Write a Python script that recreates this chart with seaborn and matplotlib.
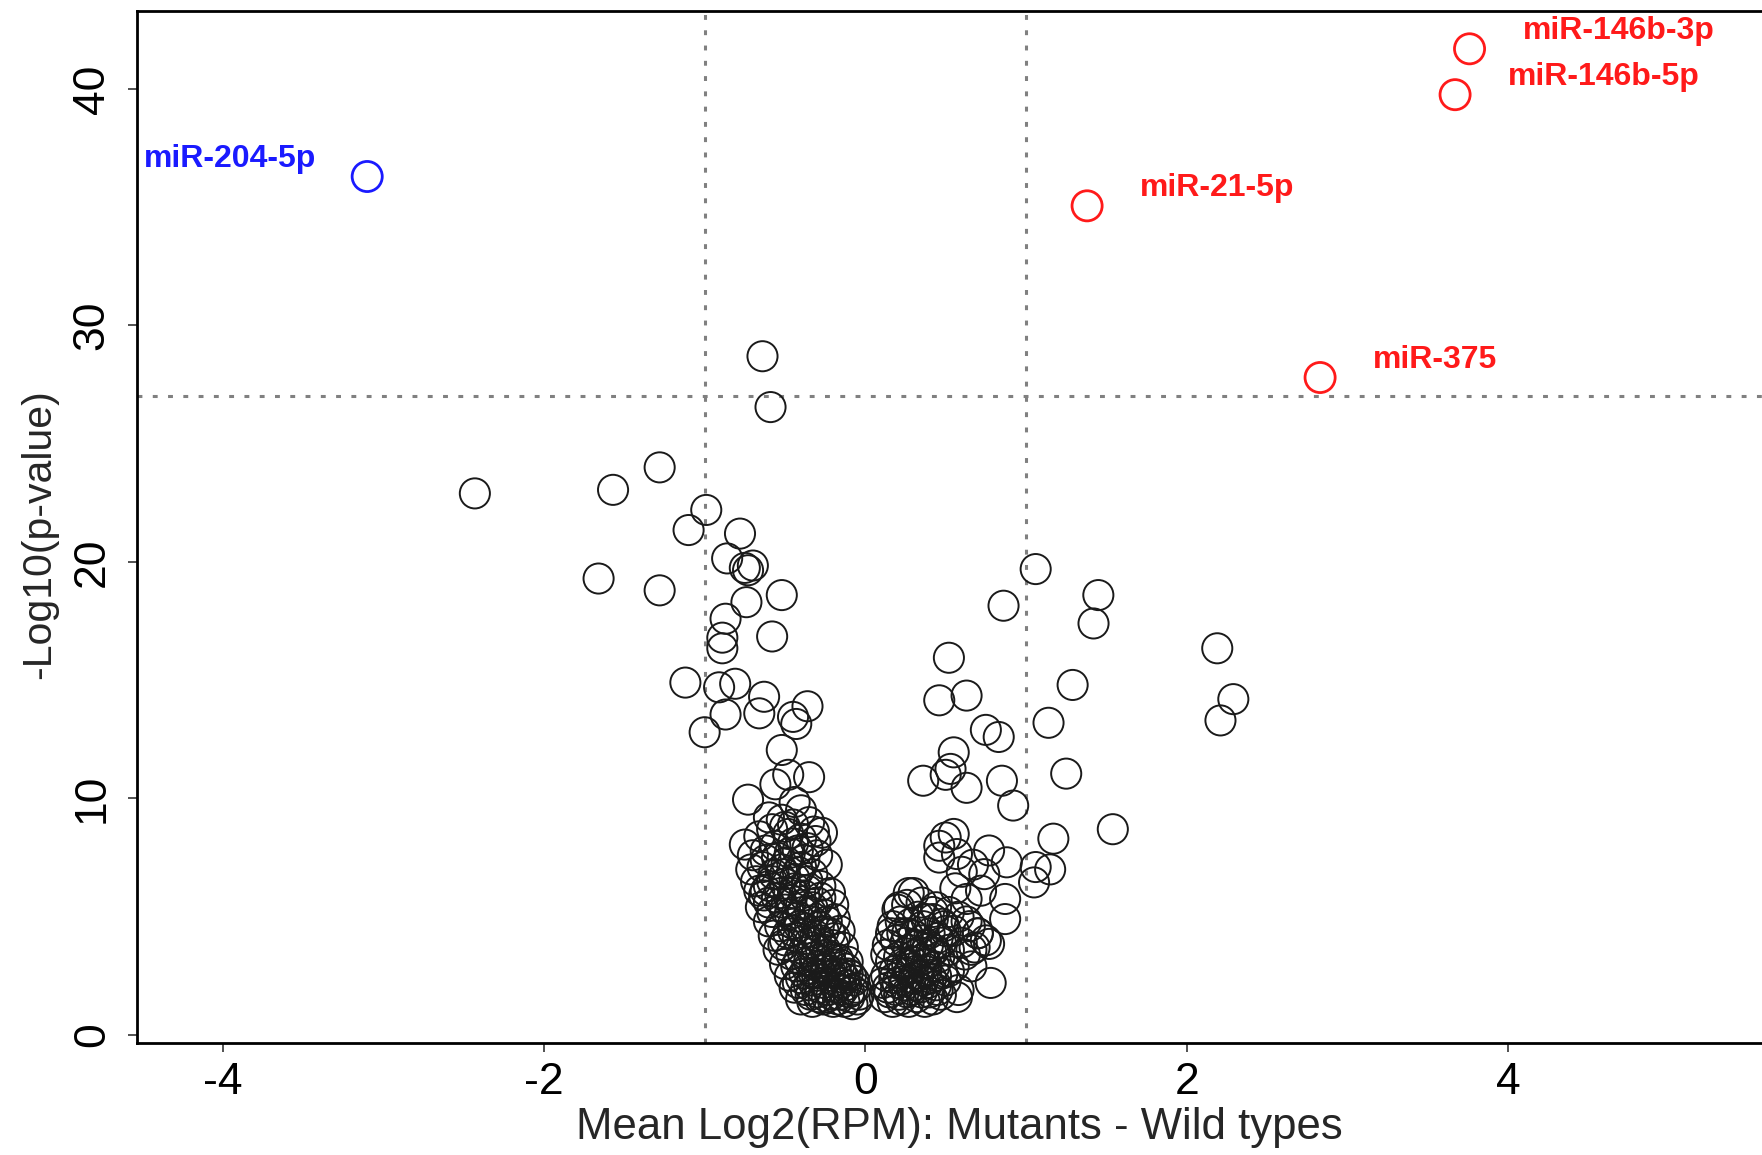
import numpy as np
import pandas as pd
import matplotlib
matplotlib.use("Agg")
import matplotlib.pyplot as plt
import seaborn as sns

# significant hits (labelled)
hit_names = ["miR-204-5p", "miR-21-5p", "miR-375", "miR-146b-5p", "miR-146b-3p"]
hit_lfc = [-3.10, 1.38, 2.83, 3.67, 3.76]
hit_nlp = [36.3, 35.06, 27.8, 39.76, 41.7]
hit_dir = ["down", "up", "up", "up", "up"]

# left wing, sparse upper part (lfc, -log10 p)
left_sparse = [
    (-0.64, 28.7), (-0.59, 26.55), (-2.43, 22.9), (-1.57, 23.05), (-1.28, 24.0),
    (-0.99, 22.2), (-1.10, 21.35), (-0.78, 21.2), (-1.66, 19.3), (-1.28, 18.8),
    (-0.86, 20.15), (-0.75, 19.75), (-0.70, 19.85), (-0.73, 19.65), (-0.52, 18.6),
    (-0.74, 18.3), (-0.87, 17.6), (-0.89, 16.8), (-0.89, 16.35), (-0.58, 16.85),
    (-1.12, 14.9), (-0.91, 14.7), (-0.81, 14.85), (-0.63, 14.3), (-0.66, 13.6),
    (-0.87, 13.55), (-0.36, 13.9), (-0.45, 13.45), (-0.43, 13.15), (-1.00, 12.8),
    (-0.52, 12.05), (-0.73, 9.95), (-0.56, 10.6), (-0.48, 11.0), (-0.35, 10.9),
    (-0.44, 9.85), (-0.40, 9.5), (-0.75, 8.05), (-0.27, 8.55), (-0.71, 7.0),
    (-0.66, 6.1),
]

# left wing, dense lower part
left_dense = [
    (-0.60, 9.2), (-0.52, 9.1), (-0.45, 8.9), (-0.35, 9.0), (-0.58, 8.7), (-0.48, 8.5),
    (-0.40, 8.3), (-0.31, 8.2), (-0.66, 8.4), (-0.70, 7.6), (-0.62, 7.8), (-0.55, 7.5),
    (-0.47, 7.7), (-0.38, 7.4), (-0.30, 7.6), (-0.24, 7.2), (-0.64, 7.1), (-0.52, 7.0),
    (-0.42, 6.9), (-0.33, 6.8), (-0.68, 6.5), (-0.60, 6.3), (-0.50, 6.4), (-0.44, 6.2),
    (-0.36, 6.5), (-0.28, 6.3), (-0.22, 6.0), (-0.63, 5.9), (-0.55, 5.8), (-0.46, 5.7),
    (-0.38, 5.9), (-0.30, 5.6), (-0.65, 5.4), (-0.58, 5.2), (-0.50, 5.3), (-0.42, 5.0),
    (-0.34, 5.2), (-0.26, 5.1), (-0.19, 4.9), (-0.60, 4.8), (-0.53, 4.6), (-0.45, 4.7),
    (-0.37, 4.5), (-0.29, 4.6), (-0.22, 4.3), (-0.57, 4.2), (-0.50, 4.0), (-0.42, 4.1),
    (-0.35, 3.9), (-0.28, 4.0), (-0.20, 3.8), (-0.14, 3.7), (-0.54, 3.6), (-0.46, 3.4),
    (-0.39, 3.5), (-0.31, 3.3), (-0.24, 3.4), (-0.17, 3.2), (-0.11, 3.1), (-0.50, 3.0),
    (-0.43, 2.9), (-0.36, 2.8), (-0.29, 2.9), (-0.22, 2.7), (-0.15, 2.6), (-0.09, 2.5),
    (-0.47, 2.5), (-0.40, 2.4), (-0.33, 2.3), (-0.26, 2.2), (-0.19, 2.3), (-0.12, 2.1),
    (-0.06, 2.0), (-0.44, 2.0), (-0.37, 1.9), (-0.30, 1.8), (-0.23, 1.9), (-0.16, 1.7),
    (-0.10, 1.6), (-0.05, 1.5), (-0.40, 1.5), (-0.33, 1.4), (-0.26, 1.5), (-0.20, 1.4),
    (-0.13, 1.4), (-0.08, 1.3), (-0.32, 2.6), (-0.27, 3.1), (-0.21, 3.0), (-0.18, 2.0),
    (-0.14, 1.9), (-0.24, 1.6), (-0.35, 2.1), (-0.29, 1.6), (-0.41, 3.2), (-0.33, 3.7),
    (-0.25, 3.6), (-0.38, 4.3), (-0.31, 4.2), (-0.47, 5.1), (-0.40, 5.5), (-0.33, 5.4),
    (-0.53, 6.0), (-0.44, 6.6), (-0.57, 6.8), (-0.49, 7.3), (-0.36, 7.9), (-0.45, 8.1),
    (-0.56, 8.0), (-0.28, 5.8), (-0.20, 5.5), (-0.16, 4.4), (-0.12, 2.8), (-0.07, 2.3),
    (-0.10, 1.8), (-0.17, 1.5), (-0.22, 2.5), (-0.45, 4.4), (-0.51, 3.8), (-0.60, 5.6),
    (-0.62, 6.1), (-0.34, 1.7), (-0.28, 2.0), (-0.21, 1.7), (-0.15, 2.2), (-0.08, 1.9),
    (-0.30, 2.5), (-0.25, 2.8), (-0.18, 2.6), (-0.13, 2.4), (-0.38, 2.6), (-0.42, 2.2),
    (-0.35, 3.1), (-0.30, 3.6), (-0.22, 3.3), (-0.19, 4.1), (-0.26, 4.4), (-0.33, 4.8),
    (-0.41, 4.6), (-0.48, 4.3), (-0.24, 4.8), (-0.39, 5.2), (-0.52, 5.6), (-0.45, 6.0),
    (-0.36, 6.1), (-0.58, 6.5), (-0.50, 6.8), (-0.40, 7.1), (-0.62, 7.4), (-0.42, 7.8),
    (-0.32, 8.6), (-0.50, 8.8), (-0.16, 3.0), (-0.11, 2.6), (-0.04, 1.7),
]

# right wing, sparse upper part
right_sparse = [
    (1.06, 19.7), (0.86, 18.15), (1.45, 18.6), (1.42, 17.4), (0.52, 15.95), (1.29, 14.8),
    (0.46, 14.15), (0.63, 14.35), (1.14, 13.2), (0.75, 12.9), (0.83, 12.6), (0.55, 11.95),
    (0.53, 11.25), (1.25, 11.05), (0.36, 10.75), (0.50, 11.0), (0.63, 10.45), (0.85, 10.75),
    (0.92, 9.7), (1.54, 8.7), (1.17, 8.3), (2.19, 16.35), (2.29, 14.2), (2.21, 13.3),
    (0.50, 8.35), (0.55, 8.5), (0.46, 8.0), (0.57, 7.65), (0.77, 7.8), (0.67, 7.2),
    (0.74, 6.8), (0.88, 7.3), (1.06, 7.1), (1.15, 7.0), (1.05, 6.45), (0.56, 6.2),
    (0.63, 5.75), (0.87, 5.75), (0.87, 4.9), (0.70, 4.3), (0.77, 3.85), (0.63, 4.8),
    (0.42, 5.2), (0.27, 6.0), (0.21, 5.4), (0.49, 4.6), (0.66, 3.6), (0.46, 7.5),
    (0.60, 6.9), (0.72, 6.1),
]

# right wing, dense lower part
right_dense = [
    (0.12, 1.6), (0.17, 1.4), (0.22, 1.5), (0.27, 1.4), (0.32, 1.6), (0.37, 1.4),
    (0.42, 1.5), (0.47, 1.7), (0.14, 2.0), (0.19, 1.9), (0.24, 2.1), (0.29, 1.9),
    (0.34, 2.0), (0.39, 2.2), (0.44, 2.1), (0.50, 2.3), (0.13, 2.5), (0.18, 2.7),
    (0.23, 2.6), (0.28, 2.8), (0.33, 2.5), (0.38, 2.7), (0.43, 2.9), (0.48, 2.6),
    (0.16, 3.1), (0.21, 3.3), (0.26, 3.0), (0.31, 3.4), (0.36, 3.2), (0.41, 3.5),
    (0.46, 3.3), (0.52, 3.6), (0.14, 3.8), (0.19, 4.0), (0.25, 3.9), (0.30, 4.2),
    (0.35, 4.0), (0.40, 4.3), (0.45, 4.1), (0.55, 4.4), (0.60, 3.9), (0.17, 4.6),
    (0.22, 4.8), (0.28, 4.7), (0.33, 5.0), (0.38, 4.9), (0.48, 4.7), (0.20, 5.3),
    (0.26, 5.5), (0.30, 6.0), (0.35, 5.6), (0.44, 5.4), (0.52, 5.2), (0.58, 5.0),
    (0.65, 4.6), (0.70, 4.3), (0.75, 4.0), (0.62, 3.4), (0.68, 3.7), (0.55, 2.9),
    (0.25, 2.3), (0.30, 2.4), (0.20, 2.2), (0.35, 1.8), (0.40, 1.8), (0.27, 3.6),
    (0.32, 3.8), (0.23, 4.3), (0.38, 3.0), (0.44, 2.5), (0.57, 1.6), (0.58, 1.9),
    (0.78, 2.2), (0.66, 2.9), (0.15, 1.8), (0.21, 1.7), (0.26, 1.8), (0.31, 2.1),
    (0.36, 2.3), (0.41, 2.4), (0.18, 2.4), (0.23, 3.0), (0.29, 3.1), (0.34, 3.5),
    (0.39, 3.8), (0.43, 3.6), (0.47, 3.9), (0.50, 4.4), (0.26, 4.3), (0.36, 4.6),
    (0.42, 4.9), (0.13, 3.4), (0.16, 4.3), (0.11, 2.2), (0.45, 1.9), (0.52, 2.7),
]

fc_cut = [-1, 1]
p_cut = 27

x_ticks = [-4, -2, 0, 2, 4]
y_ticks = [0, 10, 20, 30, 40]

# build the table
bg = pd.DataFrame(left_sparse + left_dense + right_sparse + right_dense, columns=["lfc", "nlp"])
hits = pd.DataFrame({"name": hit_names, "lfc": hit_lfc, "nlp": hit_nlp, "dir": hit_dir})

sns.set_style("ticks")
plt.rcParams["font.family"] = ["Liberation Sans", "DejaVu Sans"]

fig = plt.figure(figsize=(17.62, 11.55), dpi=100)
ax = fig.add_axes([0.0778, 0.0971, 1 - 0.0778, 0.9903 - 0.0971])

grey = "#808080"
for xv in fc_cut:
    ax.axvline(xv, color=grey, lw=2.2, ls=(0, (1.6, 3.4)), zorder=1)
ax.axhline(p_cut, color=grey, lw=2.2, ls=(0, (1.6, 3.4)), zorder=1)

sns.scatterplot(data=bg, x="lfc", y="nlp", ax=ax, s=470, marker="o",
                facecolor="none", edgecolor="#1a1a1a", linewidth=1.4, zorder=3)
palette = {"down": "#1a1aff", "up": "#ff1a1a"}
for d, sub in hits.groupby("dir"):
    sns.scatterplot(data=sub, x="lfc", y="nlp", ax=ax, s=470, marker="o",
                    facecolor="none", edgecolor=palette[d], linewidth=2.0, zorder=4)

for _, r in hits.iterrows():
    if r["dir"] == "down":
        ax.text(r["lfc"] - 0.32, r["nlp"] + 0.75, r["name"], color=palette["down"],
                ha="right", va="center", fontsize=23, fontweight="bold")
    else:
        ax.text(r["lfc"] + 0.33, r["nlp"] + 0.75, r["name"], color=palette["up"],
                ha="left", va="center", fontsize=23, fontweight="bold")

ax.set_xlim(-4.532, 5.58)
ax.set_ylim(-0.334, 43.29)
ax.set_xticks(x_ticks)
ax.set_yticks(y_ticks)
ax.set_xticklabels([str(v) for v in x_ticks])
ax.set_yticklabels([str(v) for v in y_ticks], rotation=90, va="center")

for side in ["left", "bottom", "top"]:
    ax.spines[side].set_visible(True)
    ax.spines[side].set_linewidth(2.0)
    ax.spines[side].set_color("black")
ax.spines["right"].set_visible(False)

ax.tick_params(axis="both", direction="out", length=6.5, width=1.2, colors="#333333",
               labelsize=32, labelcolor="black")
ax.tick_params(axis="x", pad=7)
ax.tick_params(axis="y", pad=11)

ax.set_xlabel("Mean Log2(RPM): Mutants - Wild types", fontsize=31.5)
ax.set_ylabel("-Log10(p-value)", fontsize=29.5)
ax.xaxis.set_label_coords(0.506, -0.0816)
ax.xaxis.label.set_va("center")
ax.yaxis.set_label_coords(-0.0603, 0.4934)
ax.yaxis.label.set_va("center")

fig.savefig("out.png", dpi=100)
